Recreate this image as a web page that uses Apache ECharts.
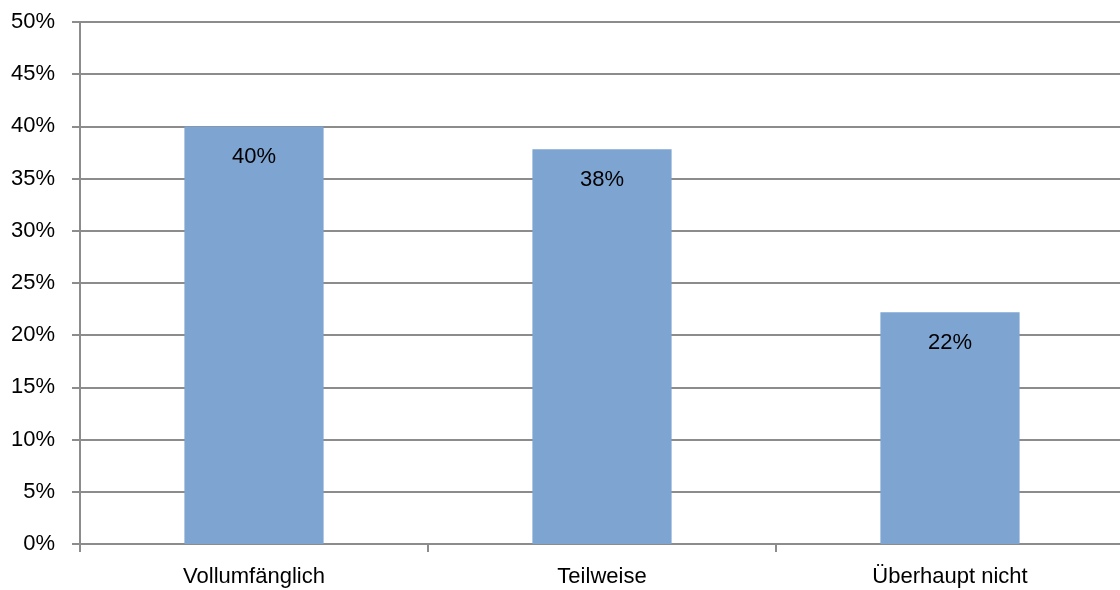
<!DOCTYPE html>
<html>
<head>
<meta charset="utf-8">
<script src="https://cdn.jsdelivr.net/npm/echarts@6/dist/echarts.min.js"></script>
<style>
  html, body { margin: 0; padding: 0; background: #fff; overflow: hidden; }
  #chart { width: 1124px; height: 590px; }
</style>
</head>
<body>
<div id="chart"></div>
<script>
const categories = ['Vollumfänglich', 'Teilweise', 'Überhaupt nicht'];
const values = [40.0, 37.8, 22.2];
const yTicks = [0, 5, 10, 15, 20, 25, 30, 35, 40, 45, 50];

const fontFamily = '"Liberation Sans Narrow", "Liberation Sans", Arial, sans-serif';
const gridColor = '#8c8c8c';

// chart is a few px wider than the window so the last category edge falls just off-screen
var myChart = echarts.init(document.getElementById('chart'));
myChart.setOption({
    animation: false,
    grid: { left: 80, right: 0, top: 22, bottom: 46, containLabel: false },
    xAxis: {
        type: 'category',
        data: categories,
        axisLine: { lineStyle: { color: gridColor, width: 2 } },
        axisTick: { show: true, length: 8, lineStyle: { color: gridColor, width: 2 } },
        axisLabel: { color: '#000', fontSize: 22, fontFamily: fontFamily, margin: 22 }
    },
    yAxis: {
        type: 'value',
        min: yTicks[0],
        max: yTicks[yTicks.length - 1],
        interval: 5,
        axisLine: { show: true, lineStyle: { color: gridColor, width: 2 } },
        axisTick: { show: true, length: 8, lineStyle: { color: gridColor, width: 2 } },
        splitLine: { lineStyle: { color: gridColor, width: 2 } },
        axisLabel: { color: '#000', fontSize: 22, fontFamily: fontFamily, margin: 25, formatter: '{value}%' }
    },
    series: [{
        type: 'bar',
        data: values,
        barWidth: '40%',
        itemStyle: { color: '#7ea4d2' },
        label: {
            show: true,
            position: 'insideTop',
            distance: 20,
            color: '#000',
            fontSize: 22,
            fontFamily: fontFamily,
            formatter: function (p) { return Math.round(p.value) + '%'; }
        }
    }]
});
</script>
</body>
</html>
